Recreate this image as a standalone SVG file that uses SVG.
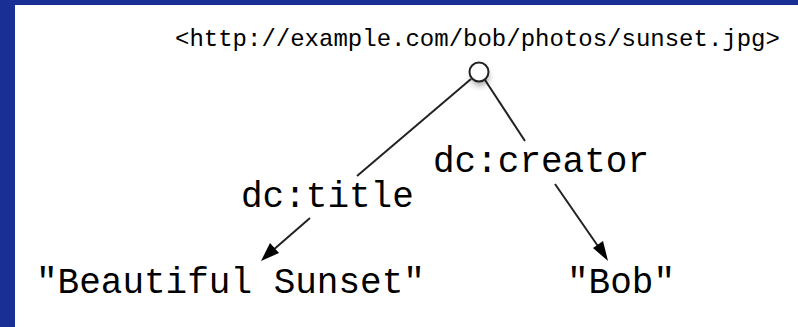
<svg xmlns="http://www.w3.org/2000/svg" width="798" height="327" viewBox="0 0 798 327">
<style>
.t{font-family:"Liberation Mono","Courier New",monospace;fill:#000}
.big{font-size:36px}
.url{font-size:24px}
.edge{stroke:#222;stroke-width:2;fill:none}
</style>
<defs>
<filter id="sh" x="-1" y="-1" width="3" height="3">
<feGaussianBlur stdDeviation="3"/>
</filter>
</defs>
<rect x="0" y="0" width="798" height="327" fill="#1a2f95"/>
<rect x="15" y="5" width="783" height="322" fill="#fff"/>
<g id="connectors">
<line class="edge" x1="471" y1="79" x2="357" y2="176"/>
<line class="edge" x1="310" y1="218" x2="264" y2="258"/>
<path d="M261,261 L270,243 L279,253 Z" fill="#000"/>
<line class="edge" x1="485" y1="80" x2="525" y2="141"/>
<line class="edge" x1="555" y1="184" x2="602" y2="252"/>
<path d="M608,261 L593,248 L603,241 Z" fill="#000"/>
<text class="t big" x="241" y="207">dc:title</text>
<text class="t big" x="433" y="172">dc:creator</text>
</g>
<g id="subject">
<circle cx="480" cy="77" r="9" fill="#000" opacity="0.35" filter="url(#sh)"/>
<circle cx="479" cy="72" r="9.5" fill="#fff" stroke="#222" stroke-width="2"/>
<text class="t url" x="175" y="46">&lt;http://example.com/bob/photos/sunset.jpg&gt;</text>
</g>
<g id="title">
<text class="t big" x="36" y="293">"Beautiful Sunset"</text>
</g>
<g id="creator">
<text class="t big" x="567" y="293">"Bob"</text>
</g>
</svg>
